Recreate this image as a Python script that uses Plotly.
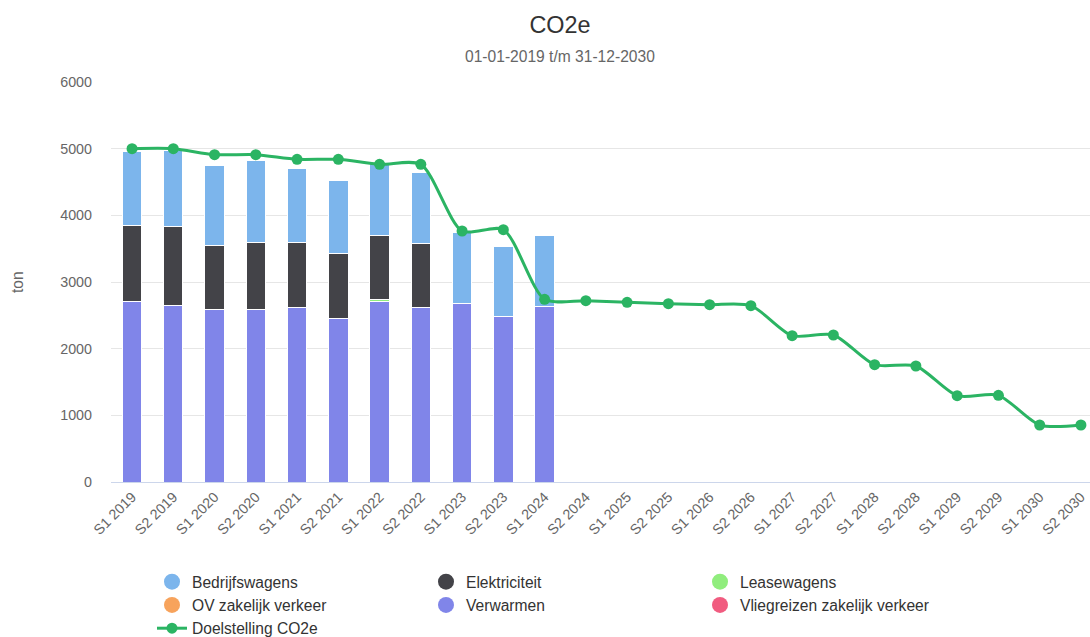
import plotly.graph_objects as go

categories = ["S1 2019", "S2 2019", "S1 2020", "S2 2020", "S1 2021", "S2 2021",
              "S1 2022", "S2 2022", "S1 2023", "S2 2023", "S1 2024", "S2 2024",
              "S1 2025", "S2 2025", "S1 2026", "S2 2026", "S1 2027", "S2 2027",
              "S1 2028", "S2 2028", "S1 2029", "S2 2029", "S1 2030", "S2 2030"]

N_PAD = 13  # periods without measured data
bedrijfswagens = [1115, 1135, 1190, 1235, 1110, 1085, 1105, 1065, 1060, 1055, 1060] + [None] * N_PAD
elektriciteit = [1140, 1185, 965, 1000, 975, 985, 960, 955, None, None, None] + [None] * N_PAD
leasewagens = [None, None, None, None, None, None, 30, None, None, None, None] + [None] * N_PAD
ov_zakelijk = [None] * 24
verwarmen = [2710, 2650, 2590, 2590, 2615, 2450, 2705, 2620, 2680, 2485, 2640] + [None] * N_PAD
vliegreizen = [None] * 24
doelstelling = [5000, 5000, 4910, 4910, 4840, 4840, 4765, 4765, 3765, 3785, 2740, 2720,
                2695, 2675, 2660, 2645, 2195, 2205, 1760, 1740, 1295, 1300, 855, 855]

series = [
    ("Bedrijfswagens", bedrijfswagens, "#7cb5ec"),
    ("Elektriciteit", elektriciteit, "#434348"),
    ("Leasewagens", leasewagens, "#90ed7d"),
    ("OV zakelijk verkeer", ov_zakelijk, "#f7a35c"),
    ("Verwarmen", verwarmen, "#8085e9"),
    ("Vliegreizen zakelijk verkeer", vliegreizen, "#f15c80"),
]
line_color = "#2bb463"
FONT = "Liberation Sans, Arial, Helvetica, sans-serif"

W, H = 1090, 637

fig = go.Figure()

# legend entries (circle symbols like the reference)
for name, vals, color in series:
    fig.add_trace(go.Scatter(x=[None], y=[None], mode="markers", name=name,
                             marker=dict(symbol="circle", size=16, color=color),
                             showlegend=True, hoverinfo="skip"))

# stacked bars: first series on top -> add in reverse order
for name, vals, color in reversed(series):
    fig.add_trace(go.Bar(x=categories, y=vals, name=name, width=0.47,
                         marker=dict(color=color, line=dict(color="#ffffff", width=1)),
                         showlegend=False))

fig.add_trace(go.Scatter(x=categories, y=doelstelling, name="Doelstelling CO2e",
                         mode="lines+markers",
                         line=dict(color=line_color, width=3, shape="spline", smoothing=0.75),
                         marker=dict(color=line_color, size=11)))

L, T = 111, 82
B = H - 482
plot_w = W - L
fig.update_layout(
    width=W, height=H,
    margin=dict(l=L, r=0, t=T, b=B, pad=0),
    barmode="stack",
    plot_bgcolor="#ffffff", paper_bgcolor="#ffffff",
    font=dict(family=FONT, color="#666666"),
    title=dict(text="CO2e", x=560 / W, xanchor="center",
               y=1 - 24.5 / H, yanchor="middle",
               font=dict(size=23.4, color="#333333", family=FONT)),
    showlegend=True,
    legend=dict(orientation="h", xref="container", yref="container",
                x=152 / W, xanchor="left", y=1 - 565 / H, yanchor="top",
                entrywidth=229, entrywidthmode="pixels",
                font=dict(size=15.6, color="#333333", family=FONT),
                bgcolor="rgba(0,0,0,0)", traceorder="normal"),
    annotations=[
        dict(text="01-01-2019 t/m 31-12-2030", xref="paper", yref="paper",
             x=(560 - L) / plot_w, y=(482 - 56) / 400, xanchor="center", yanchor="middle",
             showarrow=False, font=dict(size=15.6, color="#666666", family=FONT)),
        dict(text="ton", xref="paper", yref="paper", x=(17 - L) / plot_w, y=0.5,
             xanchor="center", yanchor="middle", textangle=-90, showarrow=False,
             font=dict(size=15.6, color="#666666", family=FONT)),
    ],
)

fig.update_xaxes(type="category", categoryorder="array", categoryarray=categories,
                 range=[-0.51, 23.22], showgrid=False, showline=True, linecolor="#ccd6eb",
                 linewidth=1, ticks="", tickangle=-45,
                 tickfont=dict(size=14.3, color="#666666", family=FONT), zeroline=False)
fig.update_yaxes(range=[0, 6000], dtick=1000, showgrid=True, gridcolor="#e6e6e6",
                 gridwidth=1, zeroline=False, showline=False, ticks="",
                 ticklabelstandoff=18,
                 tickfont=dict(size=14.3, color="#666666", family=FONT))

fig.write_html("out.html", config={"displayModeBar": False},
               post_script="document.body.style.margin='0';document.body.style.overflow='hidden';")
